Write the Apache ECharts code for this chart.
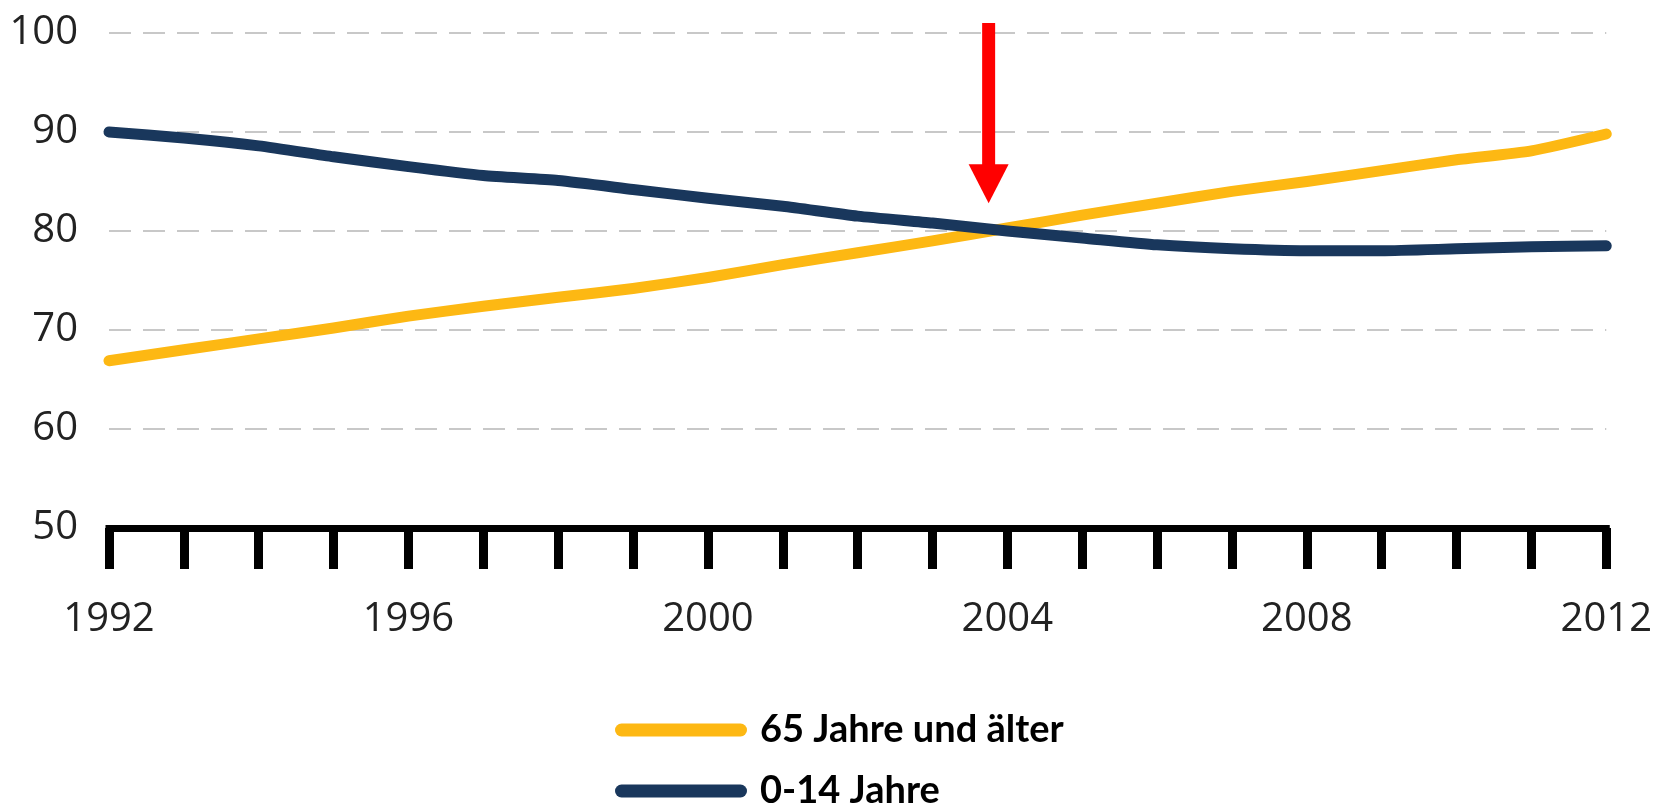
<!DOCTYPE html>
<html>
<head>
<meta charset="utf-8">
<script src="https://cdn.jsdelivr.net/npm/echarts@6/dist/echarts.min.js"></script>
<style>
html,body{margin:0;padding:0;background:#fff;}
#chart{width:1655px;height:805px;}
</style>
</head>
<body>
<div id="chart"></div>
<script>
// ---- data ----
const years = [1992,1993,1994,1995,1996,1997,1998,1999,2000,2001,2002,2003,2004,2005,2006,2007,2008,2009,2010,2011,2012];
const seniors = [66.9,68.0,69.1,70.2,71.4,72.4,73.3,74.2,75.3,76.6,77.8,79.0,80.3,81.6,82.8,84.0,85.0,86.1,87.2,88.1,89.8];
const children = [90.0,89.4,88.6,87.5,86.5,85.6,85.1,84.2,83.3,82.5,81.5,80.8,80.0,79.3,78.6,78.2,78.0,78.0,78.2,78.4,78.5];
const seriesNames = ['65 Jahre und älter', '0-14 Jahre'];
const yTicks = [50, 60, 70, 80, 90, 100];
const xLabelYears = [1992, 1996, 2000, 2004, 2008, 2012];
// annotation arrow (data coordinates)
const arrowYear = 2003.75;
const arrowFrom = 101;
const arrowTo = 82.8;

const YELLOW = '#FDB813';
const BLUE = '#19375C';

const chart = echarts.init(document.getElementById('chart'), null, {renderer: 'canvas'});

const pairs = arr => years.map((y, i) => [y, arr[i]]);
const legendIcon = 'path://M6.5,0 L125.5,0 A6.5,6.5 0 0 1 125.5,13 L6.5,13 A6.5,6.5 0 0 1 6.5,0 Z';

const option = {
  animation: false,
  backgroundColor: '#ffffff',
  grid: {left: 109, right: 47, top: 33, bottom: 277, containLabel: false},
  xAxis: {
    type: 'value',
    min: years[0],
    max: years[years.length - 1],
    interval: 1,
    axisLine: {show: true, lineStyle: {color: '#000', width: 7, cap: 'square'}},
    axisTick: {show: true, length: 41, lineStyle: {color: '#000', width: 9}},
    splitLine: {show: false},
    axisLabel: {
      margin: 72,
      fontFamily: 'Open Sans',
      fontSize: 40,
      color: '#222',
      formatter: v => (xLabelYears.indexOf(v) >= 0 ? String(v) : '')
    }
  },
  yAxis: {
    type: 'value',
    min: yTicks[0],
    max: yTicks[yTicks.length - 1],
    interval: 10,
    axisLine: {show: false},
    axisTick: {show: false},
    axisLabel: {
      margin: 31,
      fontFamily: 'Open Sans',
      fontSize: 40,
      color: '#222',
      formatter: v => String(v)
    },
    splitLine: {show: true, lineStyle: {color: '#c8c8c8', width: 2, type: [22, 12]}}
  },
  legend: {
    orient: 'vertical',
    left: 615,
    top: 711,
    height: 200,
    padding: 0,
    itemWidth: 132,
    itemHeight: 13,
    itemGap: 23,
    icon: legendIcon,
    textStyle: {
      fontFamily: 'Lato',
      fontWeight: 'bold',
      fontSize: 38,
      lineHeight: 30,
      color: '#000',
      padding: [0, 0, 0, 8]
    },
    data: seriesNames
  },
  series: [
    {
      name: seriesNames[0],
      type: 'line',
      data: pairs(seniors),
      symbol: 'none',
      smooth: 0.2,
      color: YELLOW,
      lineStyle: {color: YELLOW, width: 11, cap: 'round', join: 'round'},
      z: 2
    },
    {
      name: seriesNames[1],
      type: 'line',
      data: pairs(children),
      symbol: 'none',
      smooth: 0.2,
      color: BLUE,
      lineStyle: {color: BLUE, width: 11, cap: 'round', join: 'round'},
      z: 3
    }
  ]
};

chart.setOption(option);

// Arrow annotation positioned through the chart's own scales
const pTop = chart.convertToPixel({gridIndex: 0}, [arrowYear, arrowFrom]);
const pTip = chart.convertToPixel({gridIndex: 0}, [arrowYear, arrowTo]);
const headH = 39, headW = 40, shaftW = 13;
chart.setOption({
  graphic: [
    {
      type: 'rect',
      shape: {x: pTop[0] - shaftW / 2, y: pTop[1], width: shaftW, height: (pTip[1] - headH + 1) - pTop[1]},
      style: {fill: '#FF0000'},
      z: 100
    },
    {
      type: 'polygon',
      shape: {points: [[pTip[0] - headW / 2, pTip[1] - headH], [pTip[0] + headW / 2, pTip[1] - headH], [pTip[0], pTip[1]]]},
      style: {fill: '#FF0000'},
      z: 100
    }
  ]
});
</script>
</body>
</html>
